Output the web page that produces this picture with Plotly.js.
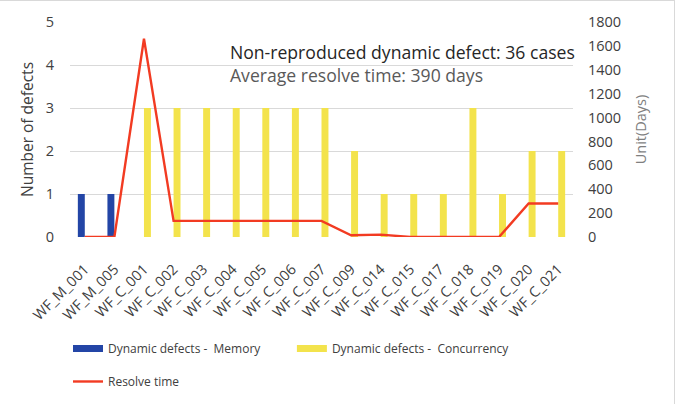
<!DOCTYPE html>
<html>
<head>
<meta charset="utf-8">
<script src="https://cdn.plot.ly/plotly-3.0.1.min.js"></script>
<style>
  html, body { margin: 0; padding: 0; background: #fff; }
  #frame { position: absolute; left: 0; top: 0; width: 675px; height: 404px;
           border-top: 1px solid #d9d9d9; border-right: 1px solid #d9d9d9; box-sizing: border-box; }
  #chart { position: absolute; left: 0; top: 0; width: 682px; height: 404px; }
</style>
</head>
<body>
<div id="frame"></div>
<div id="chart"></div>
<script>
// Defect IDs along the x axis
const defectIds = ['WF_M_001', 'WF_M_005', 'WF_C_001', 'WF_C_002', 'WF_C_003', 'WF_C_004',
  'WF_C_005', 'WF_C_006', 'WF_C_007', 'WF_C_009', 'WF_C_014', 'WF_C_015', 'WF_C_017',
  'WF_C_018', 'WF_C_019', 'WF_C_020', 'WF_C_021'];

// Number of defects per ID (null where the category does not apply)
const memoryDefects = [1, 1, null, null, null, null, null, null, null, null, null, null, null, null, null, null, null];
const concurrencyDefects = [null, null, 3, 3, 3, 3, 3, 3, 3, 2, 1, 1, 1, 3, 1, 2, 2];

// Days taken to resolve each defect
const resolveDays = [0, 0, 1660, 135, 135, 135, 135, 135, 135, 15, 20, 0, 0, 5, 0, 280, 280];

const memoryName = 'Dynamic defects -  Memory';
const concurrencyName = 'Dynamic defects -  Concurrency';
const resolveName = 'Resolve time';

const FONT = 'Open Sans, DejaVu Sans, sans-serif';
const BLUE = '#2345a6';
const YELLOW = '#f3e34c';
const RED = '#f23b22';
const TEXT = '#404040';

const traces = [
  { type: 'bar', x: defectIds, y: memoryDefects, name: memoryName, offsetgroup: 'm',
    marker: { color: BLUE }, showlegend: false },
  { type: 'bar', x: defectIds, y: concurrencyDefects, name: concurrencyName, offsetgroup: 'c',
    marker: { color: YELLOW }, showlegend: false },
  { type: 'scatter', mode: 'lines', x: defectIds, y: resolveDays, yaxis: 'y2', name: resolveName,
    line: { color: RED, width: 2.4 }, legend: 'legend3' },
  // wide swatches for the bar series in the legend
  { type: 'scatter', mode: 'lines', x: [null], y: [null], name: memoryName,
    line: { color: BLUE, width: 7 }, hoverinfo: 'skip', legend: 'legend' },
  { type: 'scatter', mode: 'lines', x: [null], y: [null], name: concurrencyName,
    line: { color: YELLOW, width: 7 }, hoverinfo: 'skip', legend: 'legend2' }
];

// legends are placed in container coordinates so they do not push the margins
const legendBase = { orientation: 'h', xanchor: 'left', yanchor: 'top', itemwidth: 30,
  xref: 'container', yref: 'container',
  bgcolor: 'rgba(0,0,0,0)', font: { size: 12, color: TEXT } };

const layout = {
  width: 682, height: 404,
  margin: { l: 70, r: 109, t: 22, b: 167 },
  paper_bgcolor: 'rgba(0,0,0,0)', plot_bgcolor: 'rgba(0,0,0,0)',
  font: { family: FONT, size: 12, color: TEXT },
  barmode: 'group', bargap: 0.53, bargroupgap: 0,
  xaxis: {
    type: 'category', tickangle: -45, showgrid: false, zeroline: false, automargin: false,
    showline: false, ticks: '', ticklabelstandoff: 20,
    tickfont: { size: 14.5, color: TEXT }
  },
  yaxis: {
    range: [0, 5], dtick: 1, showgrid: true, gridcolor: '#d9d9d9', gridwidth: 1,
    zeroline: false, showline: false, ticks: '', ticklabelstandoff: 15, automargin: true,
    tickfont: { size: 14.5, color: TEXT },
    title: { text: 'Number of defects', font: { size: 15.5, color: TEXT }, standoff: 8 }
  },
  yaxis2: {
    overlaying: 'y', side: 'right', range: [0, 1800], dtick: 200, showgrid: false,
    zeroline: false, showline: false, ticks: '', ticklabelstandoff: 14, automargin: true,
    tickfont: { size: 14.5, color: TEXT },
    title: { text: 'Unit(Days)', font: { size: 14.5, color: '#7f7f7f' }, standoff: 15 }
  },
  legend: Object.assign({}, legendBase, { x: 0.0997, y: 0.1733 }),
  legend2: Object.assign({}, legendBase, { x: 0.428, y: 0.1733 }),
  legend3: Object.assign({}, legendBase, { x: 0.0997, y: 0.0916 }),
  annotations: [
    { xref: 'paper', yref: 'paper', x: 0.314, y: 0.86, xanchor: 'left', yanchor: 'middle',
      showarrow: false, text: 'Non-reproduced dynamic defect: 36 cases',
      font: { family: FONT, size: 17.6, color: '#262626' } },
    { xref: 'paper', yref: 'paper', x: 0.314, y: 0.753, xanchor: 'left', yanchor: 'middle',
      showarrow: false, text: 'Average resolve time: 390 days',
      font: { family: FONT, size: 17.6, color: '#595959' } }
  ]
};

Plotly.newPlot('chart', traces, layout, { displayModeBar: false, staticPlot: true });
</script>
</body>
</html>
